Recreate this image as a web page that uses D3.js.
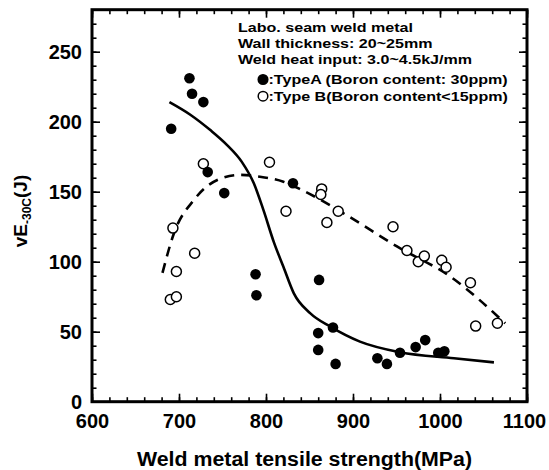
<!DOCTYPE html>
<html>
<head>
<meta charset="utf-8">
<script src="https://cdn.jsdelivr.net/npm/d3@7"></script>
<style>
  body { margin: 0; background: #fff; }
  svg text { font-family: "Liberation Sans", Arial, sans-serif; font-weight: bold; fill: #000; }
</style>
</head>
<body>
<div id="chart-area"></div>
<script>
// Type A (Boron 30ppm) - filled circles
const typeAStrength = [712, 715, 728, 691, 733, 752, 831, 788, 789, 861, 860, 860, 877, 880, 928, 939, 954, 972, 983, 998, 1005];
const typeAEnergy   = [231, 220, 214, 195, 164, 149, 156, 91, 76, 87, 49, 37, 53, 27, 31, 27, 35, 39, 44, 35, 36];

// Type B (Boron < 15ppm) - open circles
const typeBStrength = [728, 693, 804, 718, 697, 690, 697, 823, 864, 863, 883, 870, 946, 962, 975, 982, 1002, 1007, 1035, 1041, 1066];
const typeBEnergy   = [170, 124, 171, 106, 93, 73, 75, 136, 152, 148, 136, 128, 125, 108, 100, 104, 101, 96, 85, 54, 56];

// trend curves
const curveAStrength = [689, 713, 736, 755, 772, 786, 797, 809, 820, 832, 851, 874, 908, 954, 1016, 1062];
const curveAEnergy   = [214, 205, 194, 183.5, 171.5, 156, 137, 114, 96.4, 77.4, 63.1, 53.6, 42.9, 35.3, 31, 28.1];
const curveBStrength = [681, 694, 717, 744, 770, 793, 820, 842, 889, 951, 1012, 1075];
const curveBEnergy   = [92, 120, 144, 158.4, 162, 160.7, 157.1, 151, 134.6, 110.7, 89.3, 56];

const xTicks = [600, 700, 800, 900, 1000, 1100];
const yTicks = [0, 50, 100, 150, 200, 250];

const noteLines = ["Labo. seam weld metal", "Wall thickness: 20~25mm", "Weld heat input: 3.0~4.5kJ/mm"];
const legendLabels = [":TypeA (Boron content: 30ppm)", ":Type B(Boron content<15ppm)"];

const main = () => {
    const chartSize = { width: 549, height: 470 };
    const plot = { left: 92, right: 527, top: 9.7, bottom: 401.7 };
    const stretch = 1.19; // the figure's lettering is wider than Arial

    const svg = d3.select("#chart-area").append("svg")
        .attr("width", chartSize.width)
        .attr("height", chartSize.height);

    const x = d3.scaleLinear().domain([600, 1100]).range([plot.left, plot.right]);
    const y = d3.scaleLinear().domain([0, 280]).range([plot.bottom, plot.top]);

    // minor ticks
    const xMinor = d3.range(600, 1101, 20);
    const yMinor = d3.range(0, 281, 10);

    const addAxis = (axis, transform, cls) => {
        const g = svg.append("g").attr("class", cls).attr("transform", transform).call(axis);
        g.select(".domain").remove();
        g.selectAll("line").attr("stroke", "#000").attr("stroke-width", 1.6);
        return g;
    };

    addAxis(d3.axisBottom(x).tickValues(xMinor).tickSize(-4.5).tickFormat(""), `translate(0,${plot.bottom})`, "x-minor");
    addAxis(d3.axisTop(x).tickValues(xMinor).tickSize(-4.5).tickFormat(""), `translate(0,${plot.top})`, "x-minor-top");
    addAxis(d3.axisLeft(y).tickValues(yMinor).tickSize(-4.5).tickFormat(""), `translate(${plot.left},0)`, "y-minor");
    addAxis(d3.axisRight(y).tickValues(yMinor).tickSize(-4.5).tickFormat(""), `translate(${plot.right},0)`, "y-minor-right");
    addAxis(d3.axisTop(x).tickValues(xTicks).tickSize(-8).tickFormat(""), `translate(0,${plot.top})`, "x-top");
    addAxis(d3.axisRight(y).tickValues(yTicks).tickSize(-8).tickFormat(""), `translate(${plot.right},0)`, "y-right");

    const xAxis = addAxis(d3.axisBottom(x).tickValues(xTicks).tickSize(-8).tickPadding(12).tickFormat(d3.format("d")),
        `translate(0,${plot.bottom})`, "x-axis");
    xAxis.selectAll("text").style("font-size", "20px")
        .attr("dx", d => d === 1100 ? -3 : 0);

    const yAxis = addAxis(d3.axisLeft(y).tickValues(yTicks).tickSize(-8).tickPadding(10), `translate(${plot.left},0)`, "y-axis");
    yAxis.selectAll("text").style("font-size", "20px");

    // frame
    svg.append("rect")
        .attr("x", plot.left).attr("y", plot.top)
        .attr("width", plot.right - plot.left).attr("height", plot.bottom - plot.top)
        .attr("fill", "none").attr("stroke", "#000").attr("stroke-width", 3);

    // curves
    const line = d3.line().x(d => x(d[0])).y(d => y(d[1])).curve(d3.curveMonotoneX);
    svg.append("path")
        .datum(d3.zip(curveAStrength, curveAEnergy))
        .attr("d", line)
        .attr("fill", "none").attr("stroke", "#000").attr("stroke-width", 2.6);
    svg.append("path")
        .datum(d3.zip(curveBStrength, curveBEnergy))
        .attr("d", line)
        .attr("fill", "none").attr("stroke", "#000").attr("stroke-width", 2.6)
        .attr("stroke-dasharray", "10,7");

    // points
    svg.append("g").selectAll("circle")
        .data(d3.zip(typeBStrength, typeBEnergy))
        .join("circle")
        .attr("cx", d => x(d[0])).attr("cy", d => y(d[1])).attr("r", 5)
        .attr("fill", "#fff").attr("stroke", "#000").attr("stroke-width", 1.5);
    svg.append("g").selectAll("circle")
        .data(d3.zip(typeAStrength, typeAEnergy))
        .join("circle")
        .attr("cx", d => x(d[0])).attr("cy", d => y(d[1])).attr("r", 5.3)
        .attr("fill", "#000");

    const widen = sel => sel.each(function () {
        const w = this.getComputedTextLength();
        d3.select(this).attr("textLength", w * stretch).attr("lengthAdjust", "spacingAndGlyphs");
    });

    // notes and legend
    svg.append("g").selectAll("text")
        .data(noteLines)
        .join("text")
        .attr("x", 238).attr("y", (d, i) => 31.5 + i * 16)
        .style("font-size", "13.5px")
        .text(d => d)
        .call(widen);

    const legend = svg.append("g").selectAll("g")
        .data(legendLabels)
        .join("g")
        .attr("transform", (d, i) => `translate(263,${84 + i * 16.7})`);
    legend.append("circle")
        .attr("cy", -4.5).attr("r", 4.8)
        .attr("fill", (d, i) => i === 0 ? "#000" : "#fff")
        .attr("stroke", "#000").attr("stroke-width", 1.5);
    legend.append("text")
        .attr("x", 5.5)
        .style("font-size", "13.5px")
        .text(d => d)
        .call(widen);

    // axis labels
    svg.append("text")
        .attr("x", (137 + 472) / 2).attr("y", 466)
        .attr("text-anchor", "middle")
        .attr("textLength", 335).attr("lengthAdjust", "spacingAndGlyphs")
        .style("font-size", "20px")
        .text("Weld metal tensile strength(MPa)");

    const yLabel = svg.append("text")
        .attr("transform", "translate(27,211) rotate(-90)")
        .attr("text-anchor", "middle")
        .style("font-size", "19px");
    yLabel.append("tspan").text("vE");
    yLabel.append("tspan").attr("dy", 4).style("font-size", "12px").text("-30C");
    yLabel.append("tspan").attr("dy", -4).text("(J)");
};

window.onload = main;
</script>
</body>
</html>
